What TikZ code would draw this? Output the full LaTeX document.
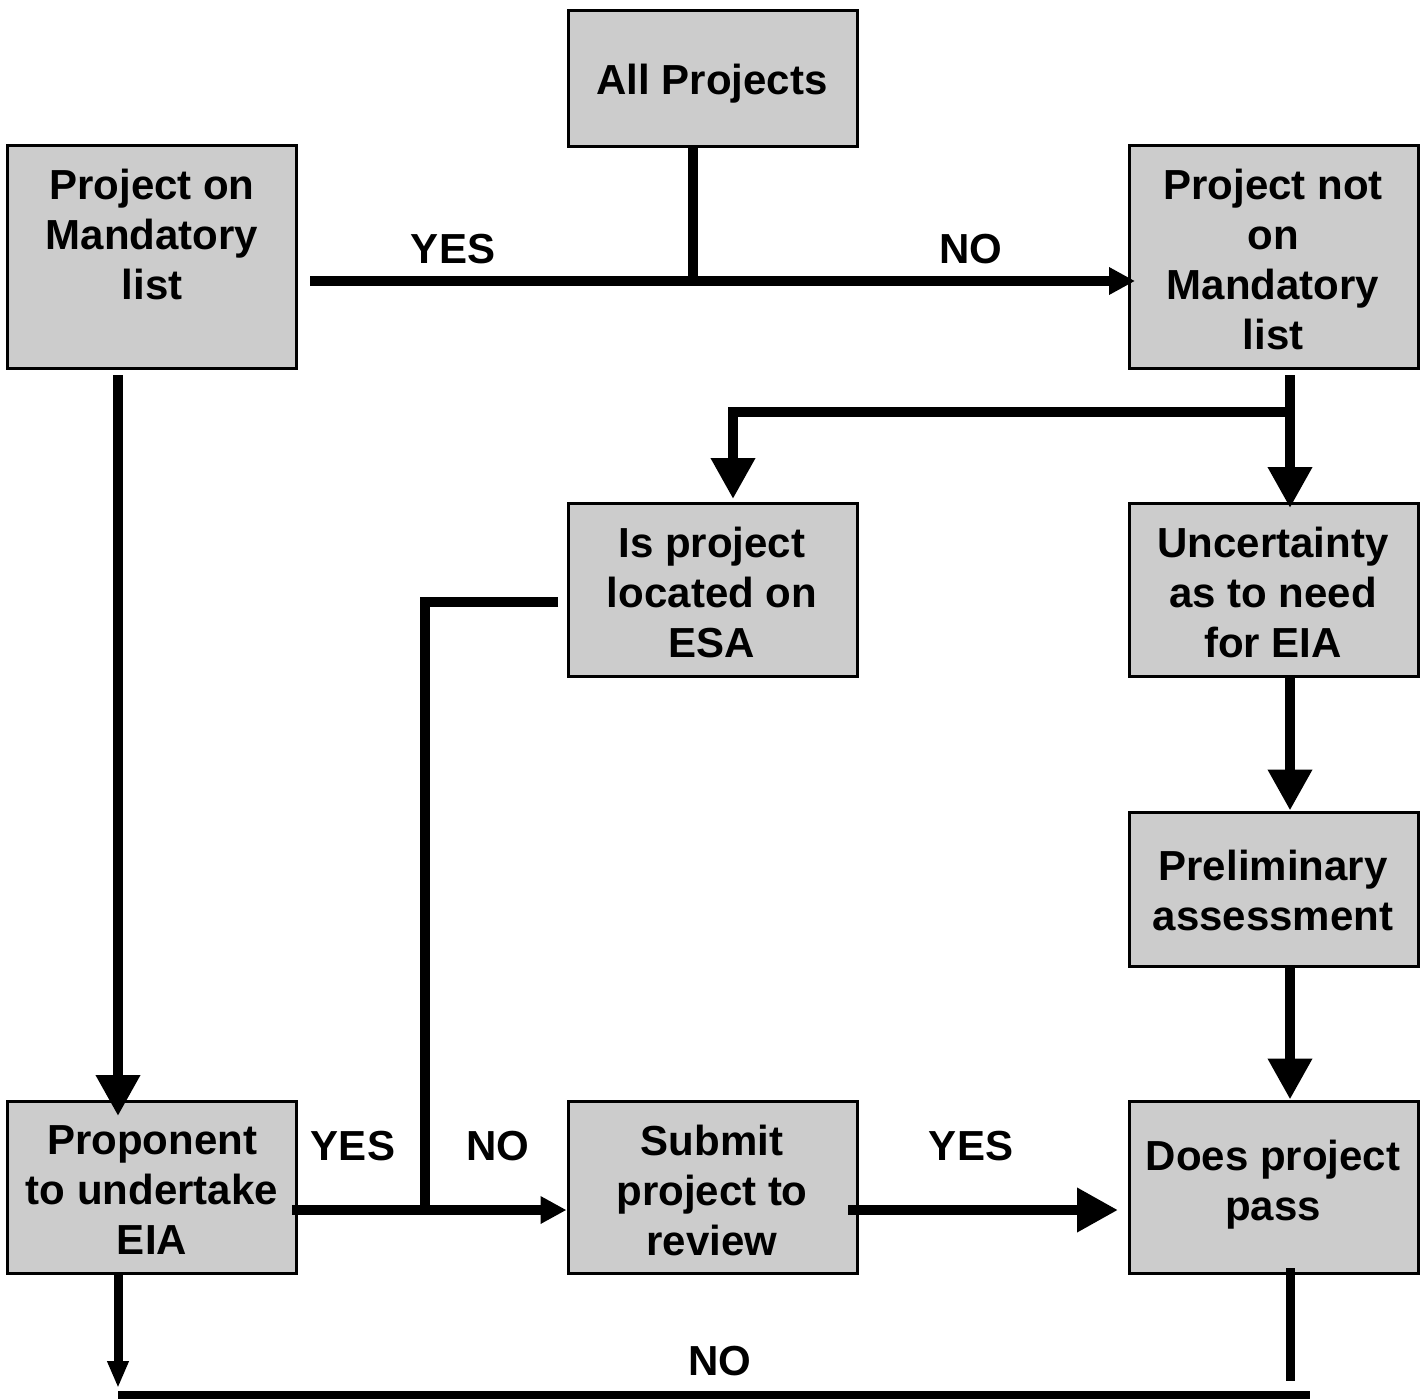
\documentclass[tikz,border=0pt]{standalone}
\usepackage{fontspec}
\setmainfont{Liberation Sans}
\usetikzlibrary{arrows.meta}
\definecolor{boxgray}{RGB}{204,204,204}
\begin{document}
\begin{tikzpicture}[x=0.5pt,y=-0.5pt,
  box/.style={draw=black, line width=1.5pt, fill=boxgray, minimum width=144.5pt, inner sep=0pt},
  txt/.style={font=\bfseries\fontsize{21}{25}\selectfont, align=center, inner sep=0pt},
  conn/.style={line width=5pt},
  bigtip/.style={-{Triangle[length=20.5pt,width=21pt]}},
  midtip/.style={-{Triangle[length=13pt,width=13pt]}},
  thintip/.style={-{Triangle[length=13.5pt,width=10pt]}}]
\useasboundingbox (0,0) rectangle (1428,1398);
% boxes
\node[box, minimum height=68pt]   (allp) at (712.5,78)    {};
\node[box, minimum height=111.5pt] (mand) at (151.5,256.5) {};
\node[box, minimum height=111.5pt] (notm) at (1273.5,256.5) {};
\node[box, minimum height=86.5pt]  (esa)  at (712.5,589.5) {};
\node[box, minimum height=86.5pt]  (unc)  at (1273.5,589.5) {};
\node[box, minimum height=77pt]    (prel) at (1273.5,889)  {};
\node[box, minimum height=86pt]    (prop) at (151.5,1187)  {};
\node[box, minimum height=86pt]    (subm) at (712.5,1187)  {};
\node[box, minimum height=86pt]    (pass) at (1273.5,1187) {};
% texts
\node[txt] (tallp) at (712,84)   {All Projects};
\node[txt] (tmand) at (152,234)  {Project on\\Mandatory\\list};
\node[txt] (tnotm) at (1273,259) {Project not\\on\\Mandatory\\list};
\node[txt] (tesa)  at (712,592)  {Is project\\located on\\ESA};
\node[txt] (tunc)  at (1273,592) {Uncertainty\\as to need\\for EIA};
\node[txt] (tprel) at (1273,890) {Preliminary\\assessment};
\node[txt] (tprop) at (152,1190) {Proponent\\to undertake\\EIA};
\node[txt] (tsubm) at (712,1190) {Submit\\project to\\review};
\node[txt] (tpass) at (1273,1185){Does project\\pass};
% labels
\node[txt] (l1) at (453,249)  {YES};
\node[txt] (l2) at (971,249)  {NO};
\node[txt] (l3) at (353,1146) {YES};
\node[txt] (l4) at (498,1146) {NO};
\node[txt] (l5) at (971,1146) {YES};
\node[txt] (l6) at (720,1361) {NO};
% coordinates
\coordinate (j1) at (693,281);
\coordinate (h1) at (310,281);
\coordinate (h2) at (1135,281);
\coordinate (v1) at (118,375);
\coordinate (v1e) at (118,1116);
\coordinate (n1) at (1290,375);
\coordinate (n1e) at (1290,508);
\coordinate (b1) at (1290,412);
\coordinate (b2) at (733,412);
\coordinate (b3) at (733,499);
\coordinate (e1) at (558,602);
\coordinate (e2) at (425,602);
\coordinate (e3) at (425,1210);
\coordinate (p1) at (292,1210);
\coordinate (s1) at (848,1210);
\coordinate (s2) at (1118,1210);
\coordinate (d1) at (118,1388);
\coordinate (r1) at (1290,1268);
\coordinate (r2) at (1290,1381);
\coordinate (f1) at (118,1395);
\coordinate (f2) at (1310,1395);
% connectors
\draw[conn] (allp.south -| j1) -- (j1);
\draw[conn, midtip] (h1) -- (h2);
\draw[conn, bigtip] (v1) -- (v1e);
\draw[conn, bigtip] (n1) -- (n1e);
\draw[conn, bigtip] (b1) -- (b2) -- (b3);
\draw[conn, bigtip] (unc.south -| b1) -- (prel.north -| b1);
\draw[conn, bigtip] (prel.south -| b1) -- (pass.north -| b1);
\draw[conn] (e1) -- (e2) -- (e3);
\draw[conn, midtip] (p1) -- (subm.west |- p1);
\draw[conn, bigtip] (s1) -- (s2);
\draw[line width=4.5pt, thintip] (prop.south -| v1) -- (d1);
\draw[line width=4.5pt] (r1) -- (r2);
\draw[line width=4pt] (f1) -- (f2);
\end{tikzpicture}
\end{document}
